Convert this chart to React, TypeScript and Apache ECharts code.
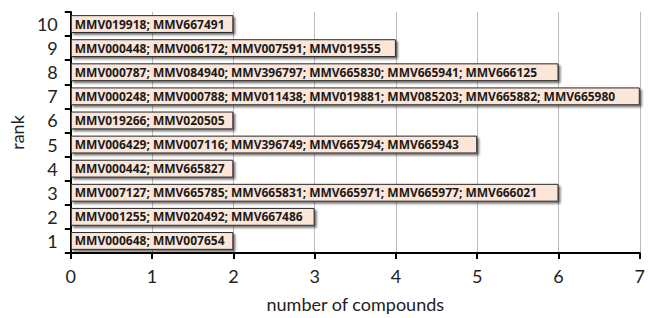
import React, { useEffect, useRef } from "react";
import * as echarts from "echarts";

const ranks = ["1", "2", "3", "4", "5", "6", "7", "8", "9", "10"];
const compoundCounts = [2, 3, 6, 2, 5, 2, 7, 6, 4, 2];
const compoundLabels = [
  "MMV000648; MMV007654",
  "MMV001255; MMV020492; MMV667486",
  "MMV007127; MMV665785; MMV665831; MMV665971; MMV665977; MMV666021",
  "MMV000442; MMV665827",
  "MMV006429; MMV007116; MMV396749; MMV665794; MMV665943",
  "MMV019266; MMV020505",
  "MMV000248; MMV000788; MMV011438; MMV019881; MMV085203; MMV665882; MMV665980",
  "MMV000787; MMV084940; MMV396797; MMV665830; MMV665941; MMV666125",
  "MMV000448; MMV006172; MMV007591; MMV019555",
  "MMV019918; MMV667491",
];
const xTicks = [0, 1, 2, 3, 4, 5, 6, 7];

export default function App() {
  const ref = useRef<HTMLDivElement>(null);
  useEffect(() => {
    if (!ref.current) return;
    const chart = echarts.init(ref.current, null, { renderer: "svg" });
    const font = "Lato, 'Open Sans', sans-serif";
    chart.setOption({
      animation: false,
      grid: { left: 68, right: 3, top: 12, bottom: 65, containLabel: false },
      xAxis: {
        type: "value",
        min: xTicks[0],
        max: xTicks[xTicks.length - 1],
        interval: 1,
        name: "number of compounds",
        nameLocation: "middle",
        nameGap: 42,
        nameTextStyle: { fontSize: 18, color: "#222", fontFamily: font },
        axisLine: { show: true, lineStyle: { color: "#000", width: 2 } },
        axisTick: { show: true, length: 6, lineStyle: { color: "#000", width: 2 } },
        axisLabel: { fontSize: 18, color: "#222", fontFamily: font, margin: 14, showMaxLabel: true },
        splitLine: { show: true, lineStyle: { color: "#bdbdbd", width: 1 } },
      },
      yAxis: {
        type: "category",
        data: ranks,
        name: "rank",
        nameLocation: "middle",
        nameRotate: 90,
        nameGap: 42,
        nameTextStyle: { fontSize: 18, color: "#222", fontFamily: font },
        axisLine: { show: true, lineStyle: { color: "#000", width: 2 } },
        axisTick: { show: true, length: 6, lineStyle: { color: "#000", width: 2 } },
        axisLabel: { fontSize: 18, color: "#222", fontFamily: font, margin: 13 },
        splitLine: { show: false },
      },
      series: [
        {
          type: "bar",
          data: compoundCounts,
          barCategoryGap: "26%",
          itemStyle: {
            color: "#fce6d8",
            borderColor: "#2a2a2a",
            borderWidth: 1,
            shadowColor: "rgba(0,0,0,0.55)",
            shadowBlur: 2,
            shadowOffsetX: 2,
            shadowOffsetY: 2,
          },
          label: {
            show: true,
            position: "insideLeft",
            offset: [-1, 0],
            formatter: (p: any) => compoundLabels[p.dataIndex],
            fontSize: 12,
            fontWeight: "bold",
            color: "#1a1a1a",
            fontFamily: "'Open Sans', sans-serif",
          },
        },
      ],
    });
    return () => chart.dispose();
  }, []);
  return <div ref={ref} style={{ width: 648, height: 318, position: "absolute", left: 0, top: 0 }} />;
}
